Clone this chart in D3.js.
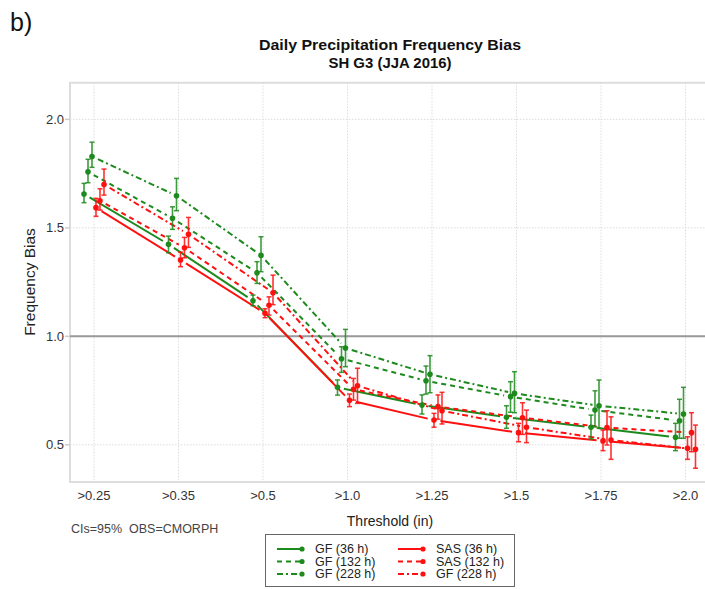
<!DOCTYPE html>
<html>
<head>
<meta charset="utf-8">
<script src="https://cdn.jsdelivr.net/npm/d3@7"></script>
<style>
  html, body { margin: 0; padding: 0; background: #fff; }
  svg { display: block; font-family: "Liberation Sans", Arial, sans-serif; }
</style>
</head>
<body>
<svg id="chart" width="705" height="589"></svg>
<script>
// Precipitation thresholds (x categories)
const thresholds = [">0.25", ">0.35", ">0.5", ">1.0", ">1.25", ">1.5", ">1.75", ">2.0"];

// Legend labels for the six runs
const seriesNames = ["GF (36 h)", "GF (132 h)", "GF (228 h)", "SAS (36 h)", "SAS (132 h)", "GF (228 h)"];

// Frequency bias and 95% confidence bounds per run
const gf36     = [1.656, 1.424, 1.164, 0.765, 0.683, 0.627, 0.581, 0.535];
const gf36Lo   = [1.616, 1.385, 1.141, 0.729, 0.642, 0.576, 0.527, 0.473];
const gf36Hi   = [1.705, 1.462, 1.190, 0.799, 0.730, 0.680, 0.637, 0.599];

const gf132    = [1.758, 1.544, 1.293, 0.897, 0.795, 0.722, 0.660, 0.611];
const gf132Lo  = [1.708, 1.493, 1.244, 0.834, 0.734, 0.650, 0.583, 0.530];
const gf132Hi  = [1.816, 1.597, 1.344, 0.952, 0.863, 0.791, 0.749, 0.710];

const gf228    = [1.829, 1.648, 1.373, 0.946, 0.825, 0.737, 0.680, 0.642];
const gf228Lo  = [1.779, 1.579, 1.298, 0.860, 0.740, 0.648, 0.576, 0.530];
const gf228Hi  = [1.895, 1.728, 1.459, 1.032, 0.911, 0.837, 0.799, 0.765];

const sas36    = [1.593, 1.352, 1.106, 0.705, 0.614, 0.556, 0.518, 0.484];
const sas36Lo  = [1.553, 1.321, 1.086, 0.676, 0.581, 0.514, 0.473, 0.433];
const sas36Hi  = [1.636, 1.388, 1.127, 0.734, 0.645, 0.599, 0.568, 0.537];

const sas132   = [1.625, 1.408, 1.143, 0.756, 0.676, 0.625, 0.579, 0.556];
const sas132Lo = [1.582, 1.362, 1.098, 0.706, 0.618, 0.548, 0.499, 0.468];
const sas132Hi = [1.680, 1.456, 1.182, 0.806, 0.730, 0.694, 0.657, 0.648];

const sas228   = [1.700, 1.470, 1.201, 0.772, 0.657, 0.581, 0.522, 0.479];
const sas228Lo = [1.651, 1.410, 1.146, 0.691, 0.596, 0.510, 0.433, 0.392];
const sas228Hi = [1.771, 1.548, 1.282, 0.853, 0.742, 0.660, 0.629, 0.591];

// Y-axis ticks
const yTicks = [0.5, 1.0, 1.5, 2.0];
const yTickLabels = ["0.5", "1.0", "1.5", "2.0"];

// Styling per run
const GREEN = "#1d8a1d", RED = "#ff1010";
const series = [
  { name: seriesNames[0], v: gf36,   lo: gf36Lo,   hi: gf36Hi,   color: GREEN, dash: null },
  { name: seriesNames[1], v: gf132,  lo: gf132Lo,  hi: gf132Hi,  color: GREEN, dash: "5,4" },
  { name: seriesNames[2], v: gf228,  lo: gf228Lo,  hi: gf228Hi,  color: GREEN, dash: "6,3,2,3" },
  { name: seriesNames[3], v: sas36,  lo: sas36Lo,  hi: sas36Hi,  color: RED,   dash: null },
  { name: seriesNames[4], v: sas132, lo: sas132Lo, hi: sas132Hi, color: RED,   dash: "5,4" },
  { name: seriesNames[5], v: sas228, lo: sas228Lo, hi: sas228Hi, color: RED,   dash: "6,3,2,3" }
];
const dodge = [-10, -6, -2, 2, 6, 10];

const svg = d3.select("#chart");
const pLeft = 70, pRight = 709.5, pTop = 82.7, pBottom = 482;

const x = d3.scaleLinear().domain([-0.284, 7.284]).range([pLeft, pRight]);
const y = d3.scaleLinear().domain([0.3286, 2.169]).range([pBottom, pTop]);

// Grid
const grid = svg.append("g");
grid.selectAll("line.gy").data(yTicks).join("line")
  .attr("x1", pLeft).attr("x2", 705).attr("y1", d => y(d)).attr("y2", d => y(d))
  .attr("stroke", "#dcdcdc").attr("stroke-width", 1).attr("stroke-dasharray", "1.5,1.5");
grid.selectAll("line.gx").data(thresholds).join("line")
  .attr("x1", (d, i) => x(i)).attr("x2", (d, i) => x(i)).attr("y1", pTop).attr("y2", pBottom)
  .attr("stroke", "#dcdcdc").attr("stroke-width", 1).attr("stroke-dasharray", "1.5,1.5");

// Frame (left, top, bottom)
svg.append("path")
  .attr("d", `M705,${pTop}H${pLeft}V${pBottom}H705`)
  .attr("fill", "none").attr("stroke", "#dddddd").attr("stroke-width", 2);

// Y ticks and labels
svg.selectAll("line.yt").data(yTicks).join("line")
  .attr("x1", pLeft - 5).attr("x2", pLeft).attr("y1", d => y(d)).attr("y2", d => y(d))
  .attr("stroke", "#cccccc").attr("stroke-width", 1.5);
svg.selectAll("text.yl").data(yTicks).join("text")
  .attr("x", pLeft - 6).attr("y", d => y(d)).attr("dy", "0.35em")
  .attr("text-anchor", "end").attr("font-size", 13).attr("fill", "#333")
  .text((d, i) => yTickLabels[i]);

// X tick labels
svg.selectAll("text.xl").data(thresholds).join("text")
  .attr("x", (d, i) => x(i)).attr("y", 500)
  .attr("text-anchor", "middle").attr("font-size", 13).attr("fill", "#333")
  .text(d => d);

// Reference line at bias = 1
svg.append("line")
  .attr("x1", pLeft).attr("x2", 705).attr("y1", y(1)).attr("y2", y(1))
  .attr("stroke", "#999").attr("stroke-width", 2);

// Lines with gaps around each point
const GAP = 6.5;
const plot = svg.append("g");
series.forEach((s, k) => {
  const pts = s.v.map((v, i) => [x(i) + dodge[k], y(v)]);
  for (let i = 0; i < pts.length - 1; i++) {
    const [x1, y1] = pts[i], [x2, y2] = pts[i + 1];
    const len = Math.hypot(x2 - x1, y2 - y1);
    const ux = (x2 - x1) / len, uy = (y2 - y1) / len;
    plot.append("line")
      .attr("x1", x1 + ux * GAP).attr("y1", y1 + uy * GAP)
      .attr("x2", x2 - ux * GAP).attr("y2", y2 - uy * GAP)
      .attr("stroke", s.color).attr("stroke-width", 2)
      .attr("stroke-dasharray", s.dash);
  }
});

// Error bars and points
series.forEach((s, k) => {
  const g = plot.append("g");
  s.v.forEach((v, i) => {
    const cx = x(i) + dodge[k];
    g.append("line").attr("x1", cx).attr("x2", cx).attr("y1", y(s.lo[i])).attr("y2", y(s.hi[i]))
      .attr("stroke", s.color).attr("stroke-width", 1.6).attr("opacity", 0.85);
    [s.lo[i], s.hi[i]].forEach(b => {
      g.append("line").attr("x1", cx - 2.5).attr("x2", cx + 2.5).attr("y1", y(b)).attr("y2", y(b))
        .attr("stroke", s.color).attr("stroke-width", 1.5).attr("opacity", 0.85);
    });
    g.append("circle").attr("cx", cx).attr("cy", y(v)).attr("r", 2.8).attr("fill", s.color);
  });
});

// Titles and labels
svg.append("text").attr("x", 10).attr("y", 31).attr("font-size", 25).attr("fill", "#111").text("b)");
svg.append("text").attr("x", 390).attr("y", 50).attr("text-anchor", "middle")
  .attr("font-size", 15).attr("font-weight", "bold").attr("fill", "#111")
  .attr("textLength", 262).attr("lengthAdjust", "spacingAndGlyphs")
  .text("Daily Precipitation Frequency Bias");
svg.append("text").attr("x", 390).attr("y", 68).attr("text-anchor", "middle")
  .attr("font-size", 15).attr("font-weight", "bold").attr("fill", "#111")
  .attr("textLength", 123).attr("lengthAdjust", "spacingAndGlyphs")
  .text("SH G3 (JJA 2016)");
svg.append("text").attr("transform", "translate(35,282) rotate(-90)")
  .attr("text-anchor", "middle").attr("font-size", 15.5).attr("fill", "#222")
  .text("Frequency Bias");
svg.append("text").attr("x", 390).attr("y", 526).attr("text-anchor", "middle")
  .attr("font-size", 14).attr("fill", "#222").text("Threshold (in)");
svg.append("text").attr("x", 71).attr("y", 533).attr("font-size", 12.5).attr("fill", "#444")
  .text("CIs=95%\u00a0\u00a0OBS=CMORPH");

// Legend
const lg = svg.append("g");
lg.append("rect").attr("x", 265.5).attr("y", 534.5).attr("width", 249).attr("height", 52)
  .attr("fill", "#fff").attr("stroke", "#666").attr("stroke-width", 1);
const rowY = [549, 561.5, 574];
series.forEach((s, k) => {
  const col = k < 3 ? 0 : 1, row = k % 3;
  const x0 = col === 0 ? 277 : 398, x1 = x0 + 25;
  const yy = rowY[row];
  lg.append("line").attr("x1", x0).attr("x2", x1).attr("y1", yy).attr("y2", yy)
    .attr("stroke", s.color).attr("stroke-width", 2).attr("stroke-dasharray", s.dash);
  lg.append("circle").attr("cx", x1).attr("cy", yy).attr("r", 2.6).attr("fill", s.color);
  lg.append("text").attr("x", x1 + 13).attr("y", yy).attr("dy", "0.35em")
    .attr("font-size", 12.5).attr("fill", "#222").text(s.name);
});
</script>
</body>
</html>
